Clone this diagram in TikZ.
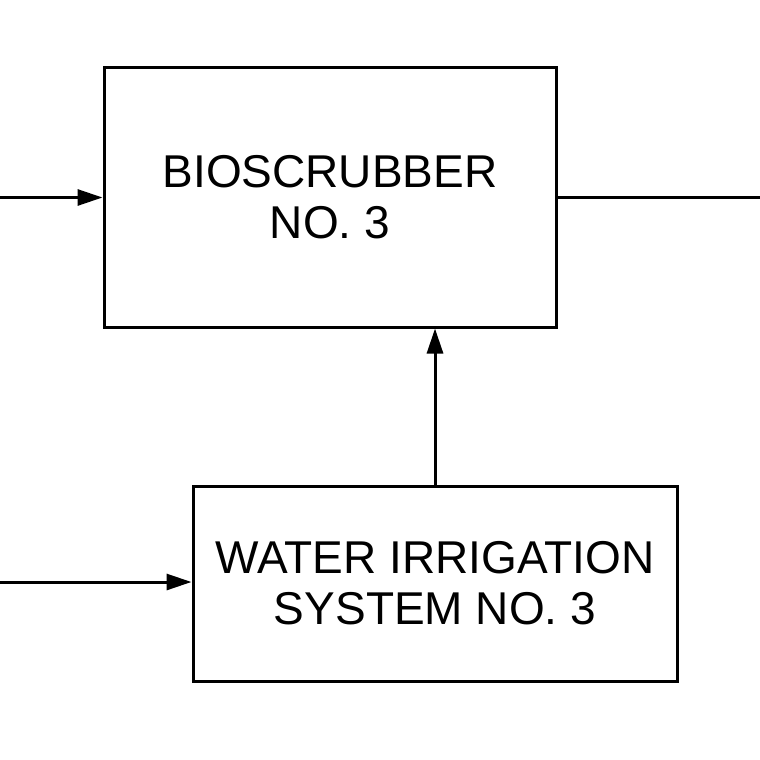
\documentclass[tikz,border=0pt]{standalone}
\usepackage{fontspec}
\setmainfont{Liberation Sans}
\usetikzlibrary{arrows.meta}
\begin{document}
\begin{tikzpicture}[x=1pt,y=-1pt,
  blk/.style={draw, line width=3pt, inner sep=0pt, align=center, font=\fontsize{46}{51}\selectfont},
  flow/.style={line width=3pt, -{Triangle[length=25pt,width=16pt]}},
  plain/.style={line width=3pt}]
\useasboundingbox (0,0) rectangle (760,760);
\node[blk, minimum width=452pt, minimum height=259pt] (bio) at (330,197.5) {BIOSCRUBBER\\NO. 3};
\node[blk, minimum width=484pt, minimum height=195pt] (wis) at (435,583.5) {WATER IRRIGATION\\SYSTEM NO. 3};
\coordinate (inA) at (0,197.5);
\coordinate (outA) at (760,197.5);
\coordinate (inB) at (0,582);
\draw[flow] (inA) -- (bio.west);
\draw[plain] (bio.east) -- (outA);
\draw[flow] (inB) -- (wis.west |- inB);
\draw[flow] (wis.north -| 435,0) -- (bio.south -| 435,0);
\end{tikzpicture}
\end{document}
